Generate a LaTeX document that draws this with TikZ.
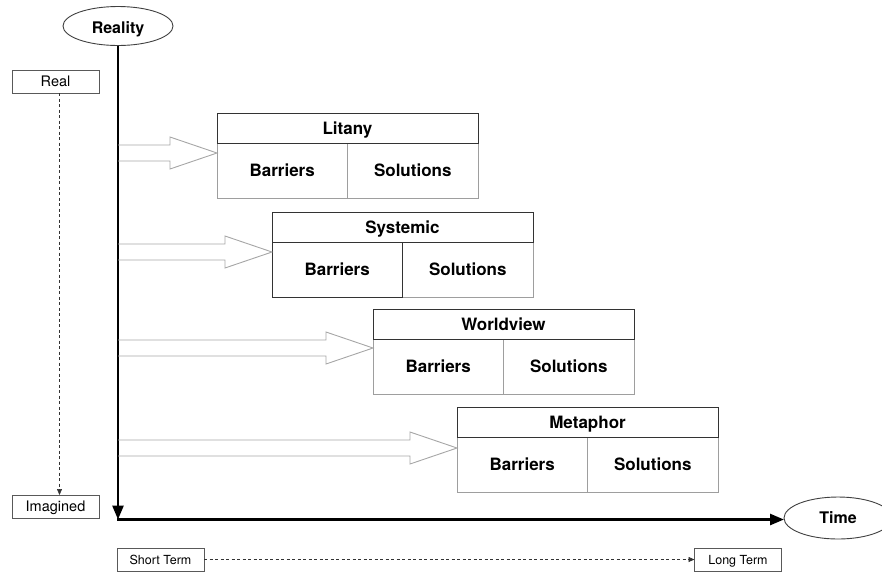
\documentclass[tikz,border=0pt]{standalone}
\usepackage{fontspec}
\setmainfont{TeX Gyre Heros}
\usetikzlibrary{shapes.geometric,arrows.meta,calc}
\tikzset{
  every node/.style={inner sep=0pt, outer sep=0pt, text depth=0pt},
  axis/.style={line width=2.6pt, -{Triangle[length=14pt,width=11pt]}},
  oval/.style={ellipse, draw=black!75, line width=0.9pt, fill=white, font=\fontsize{16}{18}\selectfont\bfseries, text height=11.5pt},
  lab/.style={rectangle, draw=black!65, line width=0.9pt, minimum width=87pt, minimum height=23pt, font=\fontsize{14.5}{16}\selectfont, text height=10.4pt},
  term/.style={rectangle, draw=black!65, line width=0.9pt, minimum width=87pt, minimum height=23pt, font=\fontsize{12.5}{14}\selectfont, text height=9pt},
  ttl/.style={rectangle, draw=black!80, line width=0.9pt, minimum width=261pt, minimum height=30pt, anchor=north west, font=\fontsize{17}{19}\selectfont\bfseries, text height=12.2pt},
  cell/.style={rectangle, draw=black!38, line width=0.9pt, minimum width=130.5pt, minimum height=55pt, anchor=north west, font=\fontsize{17}{19}\selectfont\bfseries, text height=12.2pt},
  darkcell/.style={cell, draw=black!80},
  blk/.style={draw=black!35, line width=0.9pt, line join=miter},
  dashline/.style={draw=black!80, line width=0.7pt, dash pattern=on 3pt off 2.5pt, -{Triangle[length=6pt,width=5pt]}}
}
\newcommand\blockarr[2]{%
  \draw[blk] ($(#1)+(0,-8)$) -- ($(#2)+(-47,-8)$) -- ($(#2)+(-47,-16)$) -- (#2)
    -- ($(#2)+(-47,16)$) -- ($(#2)+(-47,8)$) -- ($(#1)+(0,8)$);}
\begin{document}
\begin{tikzpicture}[x=1pt,y=-1pt]
\useasboundingbox (0,0) rectangle (882,574);
% boxes
\node[cell] (lit-b) at (217,143) {Barriers};
\node[cell] (lit-s) at (lit-b.north east) {Solutions};
\node[ttl] (lit) at (217,113) {Litany};
\node[darkcell] (sys-b) at (272,242) {Barriers};
\node[cell] (sys-s) at (sys-b.north east) {Solutions};
\draw[black!80, line width=0.9pt] (sys-b.north east) -- (sys-b.south east) -- (sys-b.south west);
\node[ttl] (sys) at (272,212) {Systemic};
\node[cell] (wv-b) at (373,339) {Barriers};
\node[cell] (wv-s) at (wv-b.north east) {Solutions};
\node[ttl] (wv) at (373,309) {Worldview};
\node[cell] (met-b) at (457,437) {Barriers};
\node[cell] (met-s) at (met-b.north east) {Solutions};
\node[ttl] (met) at (457,407) {Metaphor};
% ovals
\node[oval, minimum width=110pt, minimum height=39pt, text height=15.5pt] (reality) at (118,26) {Reality};
\node[oval, minimum width=108pt, minimum height=42pt] (time) at (838,518) {Time};
% left labels
\node[lab] (real) at (55.5,81.5) {Real};
\node[lab] (imag) at (55.5,506.5) {Imagined};
\node[term] (short) at (160.5,559.5) {Short Term};
\node[term] (long) at (738,559.5) {Long Term};
% axes
\coordinate (corner) at (118,519.5);
\draw[axis] (reality.south) -- (corner);
\draw[line width=2.6pt] (117,519.5) -- ($(time.west)+(-16,1.5)$);
\draw[axis] ($(time.west)+(-20,1.5)$) -- ($(time.west)+(0,1.5)$);
% dashed
\draw[dashline] ($(real.south)+(4,0)$) -- ($(imag.north)+(4,0)$);
\draw[dashline] (short.east) -- (long.west);
% block arrows
\coordinate (lit-a) at ($(lit.south west)+(0,10)$);
\coordinate (sys-a) at ($(sys.south west)+(0,10)$);
\coordinate (wv-a) at ($(wv.south west)+(0,9)$);
\coordinate (met-a) at ($(met.south west)+(0,11)$);
\coordinate (lit-t) at (corner |- lit-a);
\coordinate (sys-t) at (corner |- sys-a);
\coordinate (wv-t) at (corner |- wv-a);
\coordinate (met-t) at (corner |- met-a);
\blockarr{lit-t}{lit-a}
\blockarr{sys-t}{sys-a}
\blockarr{wv-t}{wv-a}
\blockarr{met-t}{met-a}
\end{tikzpicture}
\end{document}
